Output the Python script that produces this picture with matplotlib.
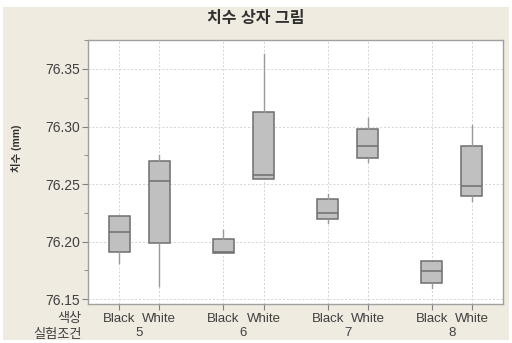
import matplotlib
matplotlib.use("Agg")
import matplotlib.pyplot as plt
from matplotlib.patches import Rectangle
from matplotlib.ticker import MultipleLocator, FormatStrFormatter
import matplotlib.transforms as mtransforms

plt.rcParams['font.family'] = ['Liberation Sans', 'Noto Sans CJK KR', 'DejaVu Sans']

groups = ["5", "6", "7", "8"]
colors = ["Black", "White"]

# five-number summaries per (group, colour) box, in plotting order
whislo = [76.181, 76.161, 76.190, 76.254, 76.216, 76.269, 76.160, 76.235]
q1     = [76.191, 76.199, 76.190, 76.254, 76.220, 76.273, 76.164, 76.240]
med    = [76.208, 76.253, 76.191, 76.258, 76.225, 76.283, 76.174, 76.248]
q3     = [76.222, 76.270, 76.202, 76.313, 76.237, 76.298, 76.183, 76.283]
whishi = [76.222, 76.275, 76.210, 76.363, 76.241, 76.307, 76.183, 76.301]

title = "치수 상자 그림"
ylabel = "치수 (mm)"
row1_name = "색상"
row2_name = "실험조건"

W, H = 512, 343
fig = plt.figure(figsize=(W / 100, H / 100), dpi=100)
fig.patch.set_facecolor("white")
fig.patches.append(Rectangle((3 / W, 1 - 340 / H), 506 / W, 333 / H,
                             transform=fig.transFigure, facecolor="#efebe1",
                             edgecolor="none", zorder=-10))

ax_l, ax_r, ax_t, ax_b = 87.7, 503, 40, 304
ax = fig.add_axes([ax_l / W, 1 - ax_b / H, (ax_r - ax_l) / W, (ax_b - ax_t) / H])
ax.set_facecolor("white")

gap = 2.6
positions = []
for gi in range(len(groups)):
    for ci in range(len(colors)):
        positions.append(1 + gi * gap + ci)

stats = []
for i in range(len(positions)):
    stats.append(dict(whislo=whislo[i], q1=q1[i], med=med[i], q3=q3[i],
                      whishi=whishi[i], fliers=[]))

ax.bxp(stats, positions=positions, widths=0.53, patch_artist=True,
       showcaps=False, showfliers=False,
       boxprops=dict(facecolor="#c0c0c0", edgecolor="#6e6e6e", linewidth=1.1),
       medianprops=dict(color="#6e6e6e", linewidth=1.1),
       whiskerprops=dict(color="#9a9a9a", linewidth=1.0))

ax.set_xlim(0.21, 10.58)
ax.set_ylim(76.1457, 76.3752)

ax.yaxis.set_major_locator(MultipleLocator(0.05))
ax.yaxis.set_minor_locator(MultipleLocator(0.025))
ax.yaxis.set_major_formatter(FormatStrFormatter("%.2f"))
ax.set_xticks(positions)
ax.set_xticklabels(colors * len(groups))

ax.grid(True, which="major", color="#d4d4d4", linestyle=(0, (2, 2)), linewidth=0.7)
ax.set_axisbelow(True)

for s in ax.spines.values():
    s.set_color("#a0a0a0")
    s.set_linewidth(1.0)

ax.tick_params(axis="both", which="both", colors="#808080", labelcolor="#404040",
               direction="out")
ax.tick_params(axis="both", which="major", length=4)
ax.tick_params(axis="y", which="minor", length=3)
ax.tick_params(axis="x", labelsize=9.5, pad=2.5)
ax.tick_params(axis="y", labelsize=10, pad=1.5)

ax_h = ax_b - ax_t
tr = mtransforms.blended_transform_factory(ax.transData, ax.transAxes)
for gi, g in enumerate(groups):
    xc = 1 + gi * gap + 0.5
    ax.text(xc, -(333 - ax_b) / ax_h, g, transform=tr, ha="center", va="center",
            fontsize=9.5, color="#404040")

ax.text(-6 / (ax_r - ax_l), -(319 - ax_b) / ax_h, row1_name, transform=ax.transAxes,
        ha="right", va="center", fontsize=9.5, color="#404040")
ax.text(-6 / (ax_r - ax_l), -(335 - ax_b) / ax_h, row2_name, transform=ax.transAxes,
        ha="right", va="center", fontsize=9.5, color="#404040")

fig.text(0.5, 1 - 19 / H, title, ha="center", va="center",
         fontsize=11.5, fontweight="bold", color="#303030")
fig.text(17 / W, 1 - 148 / H, ylabel, ha="center", va="center",
         rotation=90, fontsize=7.5, fontweight="bold", color="#303030")

fig.savefig("out.png", dpi=100, facecolor=fig.get_facecolor())
